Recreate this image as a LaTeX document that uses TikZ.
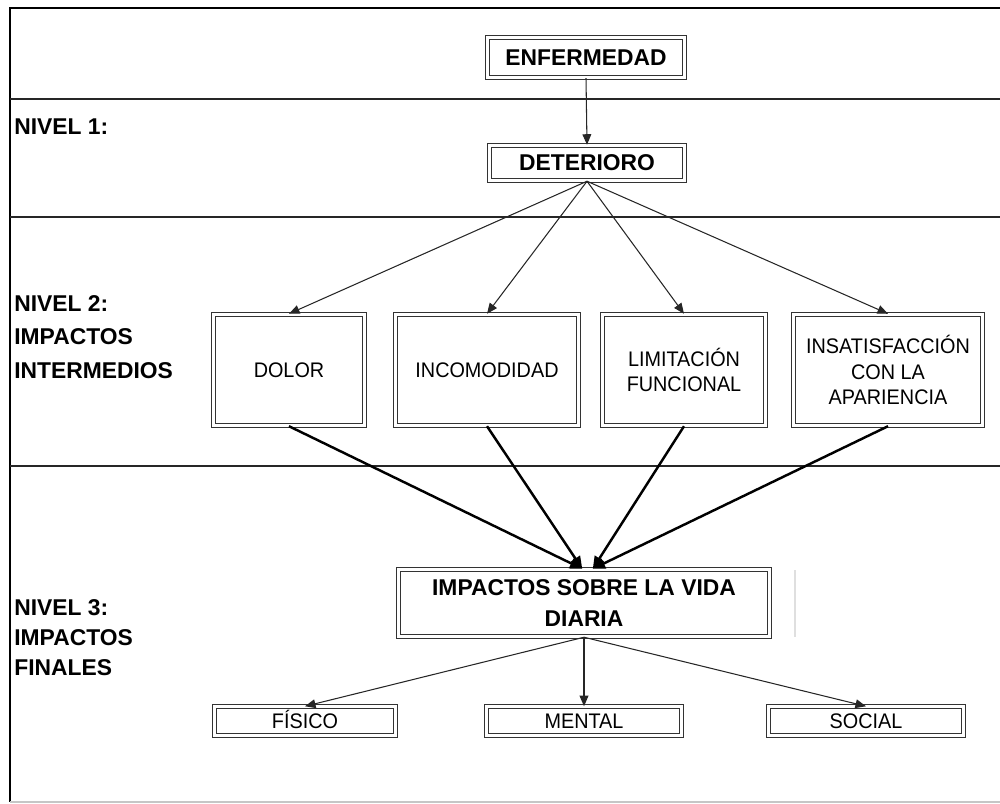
\documentclass[tikz,border=0pt]{standalone}
\usepackage{fontspec}
\setmainfont{Liberation Sans}
\newfontfamily\narrowfont[FakeStretch=0.94]{Liberation Sans}
\usetikzlibrary{arrows.meta}
\tikzset{
  dbox/.style={draw=black!80, double, double distance=1.6pt, line width=0.55pt,
               fill=white, inner sep=1pt, align=center},
  boldtext/.style={font=\fontsize{13}{18}\selectfont\bfseries},
  plaintext/.style={font=\narrowfont\fontsize{12}{14.5}\selectfont},
  nivel/.style={anchor=north west, inner sep=0pt, align=left,
                font=\fontsize{13}{19}\selectfont\bfseries},
  thinarrow/.style={draw=black!85, line width=0.6pt, -{Triangle[length=6pt,width=5pt]}},
  thickarrow/.style={draw=black, line width=1.4pt, -{Triangle[length=7pt,width=6pt]}},
  band/.style={draw=black!85, line width=0.8pt}
}

\begin{document}
\begin{tikzpicture}[x=0.02cm, y=-0.02cm]
\useasboundingbox (0,0) rectangle (1000,804);

% frame and level bands
\draw [line width=1.2pt] (1010,8) -- (10,8) -- (10,802);
\draw [gray!45, line width=1pt] (10,802) -- (1010,802);
\foreach \y in {99,217,466}
	\path [band] (10,\y) -- (1010,\y);

% level labels
\node [nivel] at (14,118) (n1) {NIVEL 1:};
\node [nivel] at (14,295) (n2) {NIVEL 2:\\IMPACTOS\\INTERMEDIOS};
\node [nivel, font=\fontsize{13}{17}\selectfont\bfseries] at (14,599) (n3) {NIVEL 3:\\IMPACTOS\\FINALES};

\node [dbox, boldtext, minimum width=3.95cm, minimum height=0.81cm] at (586,57.5) (enf) {ENFERMEDAD};
\node [dbox, boldtext, minimum width=3.91cm, minimum height=0.71cm] at (587,163) (det) {DETERIORO};

\node [dbox, plaintext, minimum width=3.03cm, minimum height=2.23cm] at (289,370) (dol) {DOLOR};
\node [dbox, plaintext, minimum width=3.67cm, minimum height=2.23cm] at (487,370) (inc) {INCOMODIDAD};
\node [dbox, plaintext, minimum width=3.27cm, minimum height=2.23cm] at (684,370) (lim) {LIMITACIÓN\\FUNCIONAL};
\node [dbox, plaintext, minimum width=3.77cm, minimum height=2.23cm] at (888,370) (ins) {INSATISFACCIÓN\\CON LA\\APARIENCIA};

\node [dbox, boldtext, minimum width=7.41cm, minimum height=1.35cm] at (584,603) (imp) {IMPACTOS SOBRE LA VIDA\\DIARIA};
\draw [gray!25, line width=0.8pt] (795,570) -- (795,637);

\node [dbox, plaintext, text height=9pt, text depth=0.5pt, minimum width=3.63cm, minimum height=0.57cm] at (305,721) (fis) {FÍSICO};
\node [dbox, plaintext, text height=9pt, text depth=0.5pt, minimum width=3.91cm, minimum height=0.57cm] at (584,721) (men) {MENTAL};
\node [dbox, plaintext, text height=9pt, text depth=0.5pt, minimum width=3.91cm, minimum height=0.57cm] at (866,721) (soc) {SOCIAL};

% connectors
\path [thinarrow] (enf.south) -- (det.north);
\foreach \n in {dol,inc,lim,ins}
	\path [thinarrow] (det.south) -- (\n.north);
\path [thickarrow] (dol.south) -- ([xshift=-1pt]imp.north);
\path [thickarrow] (inc.south) -- ([xshift=-1pt]imp.north);
\path [thickarrow] (lim.south) -- ([xshift=5pt]imp.north);
\path [thickarrow] (ins.south) -- ([xshift=5pt]imp.north);
\foreach \n in {fis,men,soc}
	\path [thinarrow] (imp.south) -- (\n.north);

\end{tikzpicture}
\end{document}
